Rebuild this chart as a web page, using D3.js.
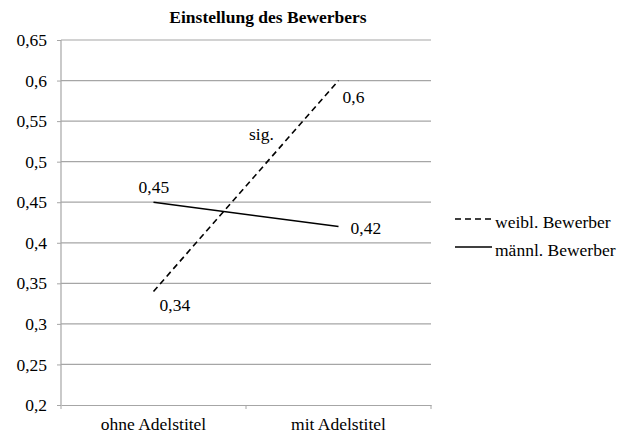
<!DOCTYPE html>
<html>
<head>
<meta charset="utf-8">
<script src="https://cdn.jsdelivr.net/npm/d3@7"></script>
<style>
  body { margin: 0; background: #fff; }
  svg text { font-family: "Liberation Serif", "Times New Roman", serif !important; fill: #000; }
</style>
</head>
<body>
<div id="chart"></div>
<script>
// data
var categories = ["ohne Adelstitel", "mit Adelstitel"];
var seriesNames = ["weibl. Bewerber", "männl. Bewerber"];
var weiblValues = [0.34, 0.6];
var maennlValues = [0.45, 0.42];
var yTicks = [0.2, 0.25, 0.3, 0.35, 0.4, 0.45, 0.5, 0.55, 0.6, 0.65];

var width = 635, height = 436;
var margin = {top: 40, right: 204, bottom: 31, left: 61};

var svg = d3.select("#chart").append("svg")
    .attr("width", width)
    .attr("height", height);

var x = d3.scaleBand()
    .domain(categories)
    .range([margin.left, width - margin.right]);

var y = d3.scaleLinear()
    .domain([0.2, 0.65])
    .range([height - margin.bottom, margin.top]);

var fmt = function(d) { return String(+d.toFixed(2)).replace(".", ","); };
var grey = "#a6a6a6";
var fs = "17.5px";

// gridlines
svg.append("g")
    .selectAll("line")
    .data(yTicks.slice(1))
    .enter().append("line")
    .attr("x1", margin.left)
    .attr("x2", width - margin.right)
    .attr("y1", function(d) { return y(d); })
    .attr("y2", function(d) { return y(d); })
    .attr("stroke", grey)
    .attr("stroke-width", 1.2);

// y axis
var yAxis = svg.append("g")
    .attr("transform", "translate(" + margin.left + ",0)")
    .call(d3.axisLeft(y).tickValues(yTicks).tickFormat(fmt).tickSize(4).tickPadding(10));
yAxis.attr("font-family", null);
yAxis.selectAll("text").style("font-size", fs);
yAxis.selectAll("line").attr("stroke", grey);
yAxis.select(".domain").attr("stroke", grey).attr("stroke-width", 1.2).attr("d", "M0," + y(0.65) + "V" + y(0.2));

// x axis
var xAxis = svg.append("g")
    .attr("transform", "translate(0," + y(0.2) + ")")
    .call(d3.axisBottom(x).tickSize(0).tickPadding(13));
xAxis.attr("font-family", null);
xAxis.select(".domain").attr("stroke", grey).attr("stroke-width", 1.2);
xAxis.selectAll("text").style("font-size", fs);
svg.append("g")
    .selectAll("line")
    .data([margin.left, margin.left + x.bandwidth(), width - margin.right])
    .enter().append("line")
    .attr("x1", function(d) { return d; })
    .attr("x2", function(d) { return d; })
    .attr("y1", y(0.2))
    .attr("y2", y(0.2) + 4)
    .attr("stroke", grey);

var line = d3.line()
    .x(function(d, i) { return x(categories[i]) + x.bandwidth() / 2; })
    .y(function(d) { return y(d); });

svg.append("path")
    .attr("d", line(weiblValues))
    .attr("fill", "none")
    .attr("stroke", "#000")
    .attr("stroke-width", 1.6)
    .attr("stroke-dasharray", "6,4");

svg.append("path")
    .attr("d", line(maennlValues))
    .attr("fill", "none")
    .attr("stroke", "#000")
    .attr("stroke-width", 1.6);

// value labels
function px(i) { return x(categories[i]) + x.bandwidth() / 2; }
var labelStyle = function(sel) { sel.style("font-size", fs); };
svg.append("text").attr("x", px(0) - 15).attr("y", y(maennlValues[0]) - 9).text(fmt(maennlValues[0])).call(labelStyle);
svg.append("text").attr("x", px(1) + 12).attr("y", y(maennlValues[1]) + 7).text(fmt(maennlValues[1])).call(labelStyle);
svg.append("text").attr("x", px(0) + 6).attr("y", y(weiblValues[0]) + 20).text(fmt(weiblValues[0])).call(labelStyle);
svg.append("text").attr("x", px(1) + 4).attr("y", y(weiblValues[1]) + 22).text(fmt(weiblValues[1])).call(labelStyle);
svg.append("text").attr("x", 249).attr("y", 140).text("sig.").call(labelStyle);

// title
svg.append("text")
    .attr("x", 268)
    .attr("y", 23)
    .attr("text-anchor", "middle")
    .style("font-size", "17.5px")
    .style("font-weight", "bold")
    .text("Einstellung des Bewerbers");

// legend
var legend = svg.append("g").attr("transform", "translate(455,0)");
[219, 247].forEach(function(ly, i) {
  legend.append("line")
      .attr("x1", 0).attr("x2", 37)
      .attr("y1", ly).attr("y2", ly)
      .attr("stroke", "#000")
      .attr("stroke-width", 1.6)
      .attr("stroke-dasharray", i === 0 ? "6,4" : null);
  legend.append("text")
      .attr("x", 40)
      .attr("y", ly + 8.5)
      .call(labelStyle)
      .text(seriesNames[i]);
});
</script>
</body>
</html>
